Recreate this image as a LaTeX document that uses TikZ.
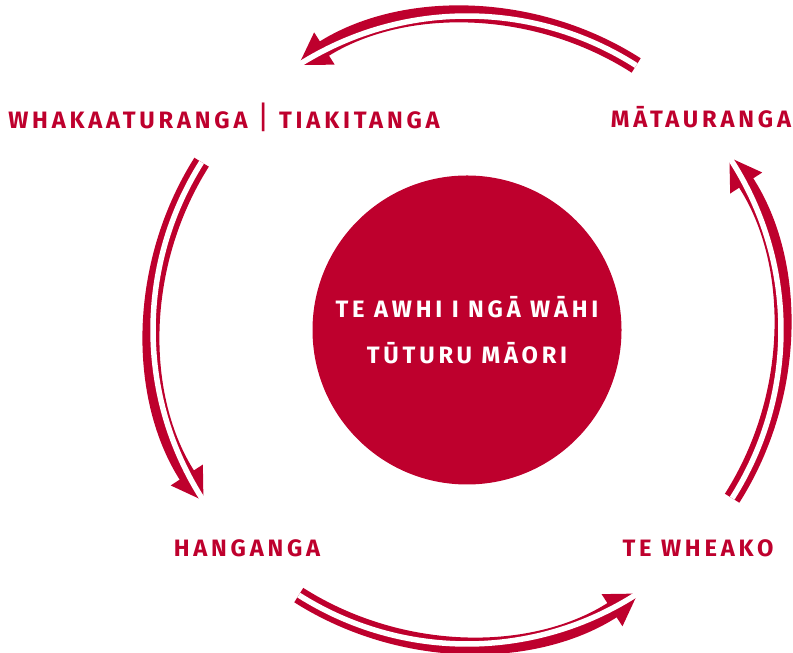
\documentclass[tikz,border=0pt]{standalone}
\usepackage{xcolor}
\usepackage{fontspec}
\setmainfont{Fira Sans}[LetterSpace=16]
\usetikzlibrary{arrows.meta,positioning,calc}
\definecolor{kura}{RGB}{190,0,45}
\tikzstyle{label}=[text=kura,font=\fontsize{13.5}{15}\selectfont\bfseries]
\tikzstyle{hub}=[circle,fill=kura,minimum size=6.18cm,inner sep=0pt,text=white,
  font=\fontsize{13.5}{26}\selectfont\bfseries,align=center]
\tikzstyle{cycle}=[kura,line width=.34cm,-{Triangle[length=.62cm,width=.72cm]}]
\tikzstyle{gap}=[white,line width=.11cm]
\tikzset{x=1cm}
\tikzset{y=1cm}
% one double arc with a split head
\newcommand{\cyclearc}[3]{
  \draw[cycle] (#1) arc[start angle=#2,end angle=#3,radius=6.28];
  \draw[gap] (#1) arc[start angle=#2,end angle=#3,radius=6.28];
}
\begin{document}
\begin{tikzpicture}
  \useasboundingbox (0,0) rectangle (15.86,13.06);
  \coordinate (C) at (9.34,6.46);
  \draw (C) node[hub] (hub) {TE AWHI I NGĀ WĀHI\\TŪTURU MĀORI};

  \draw (4.48,10.72) node[label] (whaka) {WHAKAATURANGA {\mdseries\fontsize{18}{18}\selectfont|} TIAKITANGA};
  \draw (14.02,10.72) node[label] (matau) {MĀTAURANGA};
  \draw (4.94,2.10) node[label] (hanga) {HANGANGA};
  \draw (13.96,2.10) node[label] (wheako) {TE WHEAKO};

  %% arc start points
  \coordinate (A1) at ($(C)+(57.4:6.28)$);
  \coordinate (A2) at ($(C)+(147.7:6.28)$);
  \coordinate (A3) at ($(C)+(237.6:6.28)$);
  \coordinate (A4) at ($(C)+(-32.4:6.28)$);

  \cyclearc{A1}{57.4}{122.5}
  \cyclearc{A2}{147.7}{213}
  \cyclearc{A3}{237.6}{303}
  \cyclearc{A4}{-32.4}{33.4}
\end{tikzpicture}
\end{document}
